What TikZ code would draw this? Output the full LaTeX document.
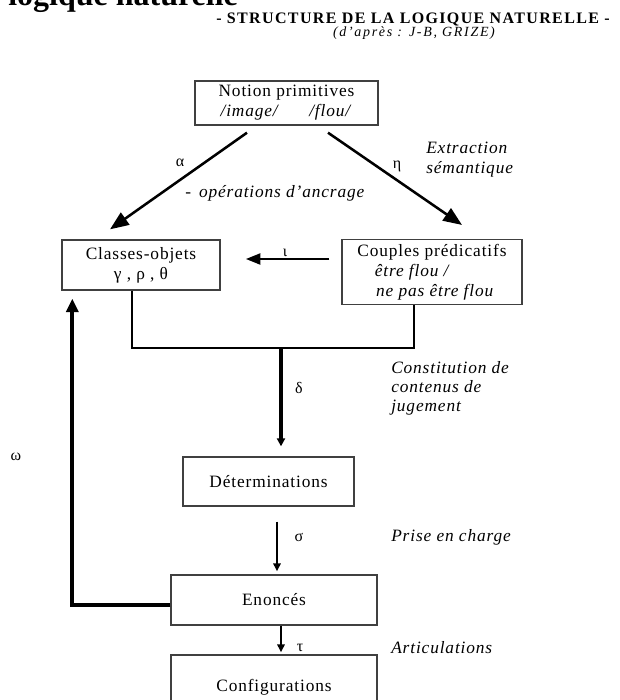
\documentclass[tikz,border=0pt]{standalone}
\usepackage{fontspec}
\setmainfont{Liberation Serif}[LetterSpace=5]
\newfontfamily\titlefont{Liberation Serif}
\newfontfamily\headfont{Liberation Serif}[LetterSpace=8.5]
\newfontfamily\sourcefont{Liberation Serif}[LetterSpace=12]
\usetikzlibrary{calc,arrows.meta}

\begin{document}
\begin{tikzpicture}[x=0.75pt, y=-0.75pt,
    box/.style={draw=black!75, line width=1pt, rectangle, align=center,
        font=\fontsize{13}{15}\selectfont},
    side/.style={anchor=west, align=left, inner sep=0pt,
        font=\fontsize{13}{15}\selectfont\itshape},
    greek/.style={font=\fontsize{12}{14}\selectfont},
    bigarrow/.style={-{Triangle[length=14pt, width=11pt]}, line width=1.9pt},
    midarrow/.style={-{Triangle[length=6pt, width=6pt]}, line width=3pt},
    thinarrow/.style={-{Triangle[length=6pt, width=5.5pt]}, line width=1.5pt},
    branch/.style={line width=1.5pt}]

    \useasboundingbox (0,0) rectangle (619,700);

    % Title (cut at the top of the page)
    \node[anchor=base west, inner sep=0pt, font=\titlefont\fontsize{24}{28}\selectfont\bfseries] (title) at (8,5) {logique naturelle};

    % Heading
    \node[font=\headfont\fontsize{12}{14}\selectfont\bfseries] (heading) at (413,19.5) {- STRUCTURE DE LA LOGIQUE NATURELLE -};
    \node[font=\sourcefont\fontsize{10.5}{12}\selectfont\itshape] (source) at (414,33) {(d’après : J-B, GRIZE)};

    % Notion primitives
    \node[box, minimum width=137.25pt, minimum height=30pt] (notion) at (286.5,103) {
        Notion primitives\\
        \textit{/image/}\hspace{22pt}\textit{/flou/}
    };

    % Classes-objets
    \node[box, minimum width=118.5pt, minimum height=37.5pt] (classes) at (141,265) {
        Classes-objets\\
        γ , ρ , θ
    };

    % Couples predicatifs
    \node[box, align=left, minimum width=135pt, minimum height=45pt] (couples) at (432,272) {
        Couples prédicatifs\\
        \hspace*{13pt}\textit{être flou /}\\
        \hspace*{14pt}\textit{ne pas être flou}
    };

    % Determinations
    \node[box, minimum width=128.25pt, minimum height=36.75pt] (determ) at (268.5,481.5) {Déterminations};

    % Enonces
    \node[box, minimum width=154.5pt, minimum height=37.5pt] (enonces) at (274,600) {Enoncés};

    % Configurations
    \node[box, minimum width=154.5pt, minimum height=48pt] (config) at (274,687) {Configurations};

    % Relations
    \draw[bigarrow] ($(notion.south)+(-39.5,7)$) -- ($(classes.north)+(-31,-10)$);
    \draw[bigarrow] ($(notion.south)+(41.5,7)$) -- ($(couples.north)+(30,-14)$);
    \draw[-{Triangle[length=11pt, width=8pt]}, line width=2.2pt] ($(couples.west)+(-12,-13)$) -- ($(classes.east)+(25,-6)$);
    \coordinate (join) at (281,348);
    \draw[branch] ($(classes.south)+(-9,0)$) |- (join) -| ($(couples.south)+(-18,0)$);
    \draw[midarrow] (join) -- ($(join |- determ.north)+(0,-10)$);
    \draw[thinarrow] ($(determ.south)+(8.5,15)$) -- ($(enonces.north)+(3,-3)$);
    \draw[thinarrow, line width=1.9pt] ($(enonces.south)+(7,0)$) -- ($(config.north)+(7,-2)$);
    \draw[-{Triangle[length=10pt, width=9pt]}, line width=3pt] ($(enonces.west)+(0,5)$) -| ($(classes.south west)+(11,8)$);

    % Greek labels
    \node[greek] (alpha) at (180,163) {α};
    \node[greek] (eta) at (397,166) {η};
    \node[greek] (iota) at (285,253) {ι};
    \node[greek] (delta) at (299,388) {δ};
    \node[greek] (sigma) at (299,537) {σ};
    \node[greek] (tau) at (300,648) {τ};
    \node[greek] (omega) at (16,457) {ω};

    % Side texts
    \node[side] (extraction) at (426,160) {Extraction\\sémantique};
    \node[side] (ancrage) at (185,193) {-\hspace{6pt}opérations d’ancrage};
    \node[side, font=\fontsize{13}{14.25}\selectfont\itshape] (jugement) at (391,388) {Constitution de\\contenus de\\jugement};
    \node[side] (charge) at (391,537) {Prise en charge};
    \node[side] (articulations) at (391,648) {Articulations};

\end{tikzpicture}
\end{document}
